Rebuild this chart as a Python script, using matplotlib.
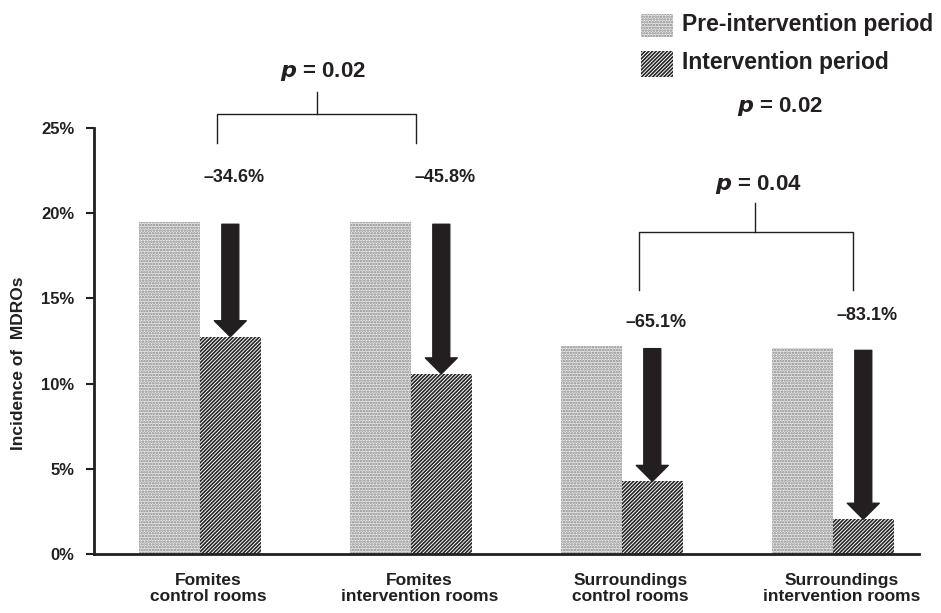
import numpy as np
import matplotlib
matplotlib.use('Agg')
import matplotlib.pyplot as plt
from matplotlib.patches import Rectangle

plt.rcParams['font.family'] = ['Liberation Sans', 'DejaVu Sans']
plt.rcParams['hatch.linewidth'] = 1.2

# data
groups = ['Fomites\ncontrol rooms', 'Fomites\nintervention rooms',
          'Surroundings\ncontrol rooms', 'Surroundings\nintervention rooms']
pre_period = [19.5, 19.5, 12.2, 12.1]
int_period = [12.75, 10.57, 4.26, 2.04]
reductions = ['\u201334.6%', '\u201345.8%', '\u201365.1%', '\u201383.1%']
yticks = [0, 5, 10, 15, 20, 25]
ytick_labels = ['0%', '5%', '10%', '15%', '20%', '25%']

txt_col = '#231f20'
w = 0.288
x = np.arange(len(groups))

fig = plt.figure(figsize=(9.41, 6.13), dpi=100)
ax = fig.add_axes([0.0999, 0.0963, 0.8767, 0.6949])

ax.bar(x - w / 2, pre_period, w, facecolor='#eaeaea', edgecolor='#858585',
       hatch='......', linewidth=0)
ax.bar(x + w / 2, int_period, w, facecolor='white', edgecolor='#262626',
       hatch='/' * 9, linewidth=0)

# arrows from pre level down to intervention level
for xi, p0, p1, lab, ly in zip(x + w / 2, pre_period, int_period, reductions,
                               [22.1, 22.1, 13.6, 14.0]):
    ax.annotate('', xy=(xi, p1), xytext=(xi, p0 - 0.15),
                arrowprops=dict(arrowstyle='simple,head_length=11.5,head_width=23,tail_width=12.2',
                                mutation_scale=1, color=txt_col, shrinkA=0, shrinkB=0))
    ax.text(xi + 0.02, ly, lab, ha='center', va='center', fontsize=13,
            fontweight='bold', color=txt_col)

# significance brackets
def bracket(x0, x1, xm, ybot, yh, ytop, label, xt, yt):
    ax.plot([x0, x0, x1, x1], [ybot, yh, yh, ybot], color=txt_col, lw=1, clip_on=False)
    ax.plot([xm, xm], [yh, ytop], color=txt_col, lw=1, clip_on=False)
    ax.text(xt, yt, label, ha='center', va='center', fontsize=16, fontweight='bold',
            color=txt_col, clip_on=False)

bracket(0.08, 1.024, 0.555, 24.14, 25.83, 27.1, r'$\bfit{p}$ = 0.02', 0.583, 28.3)
bracket(2.081, 3.095, 2.63, 15.5, 18.92, 20.6, r'$\bfit{p}$ = 0.04', 2.645, 21.67)
ax.text(2.749, 26.25, r'$\bfit{p}$ = 0.02', ha='center', va='center', fontsize=16,
        fontweight='bold', color=txt_col, clip_on=False)

ax.set_xlim(-0.502, 3.408)
ax.set_ylim(0, 25)
ax.set_yticks(yticks)
ax.set_yticklabels(ytick_labels, fontsize=12, fontweight='bold', color=txt_col)
ax.set_xticks(x + 0.04)
ax.set_xticklabels(groups, fontsize=12.5, fontweight='bold', color=txt_col, linespacing=1.05)
ax.tick_params(axis='x', length=0, pad=14)
ax.tick_params(axis='y', length=6, width=1.5, color=txt_col, pad=8)
for s in ['top', 'right']:
    ax.spines[s].set_visible(False)
for s in ['left', 'bottom']:
    ax.spines[s].set_linewidth(2)
    ax.spines[s].set_color(txt_col)
ax.set_ylabel('Incidence of  MDROs', fontsize=12.5, fontweight='bold', color=txt_col)
ax.yaxis.set_label_coords(-0.082, 0.448)

# legend drawn by hand at the top right
fig.add_artist(Rectangle((641 / 941, 1 - 37 / 613), 32 / 941, 23 / 613, transform=fig.transFigure,
                         facecolor='#eaeaea', edgecolor='#858585', hatch='......', linewidth=0))
fig.add_artist(Rectangle((641 / 941, 1 - 77 / 613), 32 / 941, 26 / 613, transform=fig.transFigure,
                         facecolor='white', edgecolor='#262626', hatch='/' * 9, linewidth=0))
fig.text(682 / 941, 1 - 25 / 613, 'Pre-intervention period', ha='left', va='center',
         fontsize=16.5, fontweight='bold', color=txt_col)
fig.text(682 / 941, 1 - 63 / 613, 'Intervention period', ha='left', va='center',
         fontsize=16.5, fontweight='bold', color=txt_col)

fig.savefig('out.png', dpi=100)
